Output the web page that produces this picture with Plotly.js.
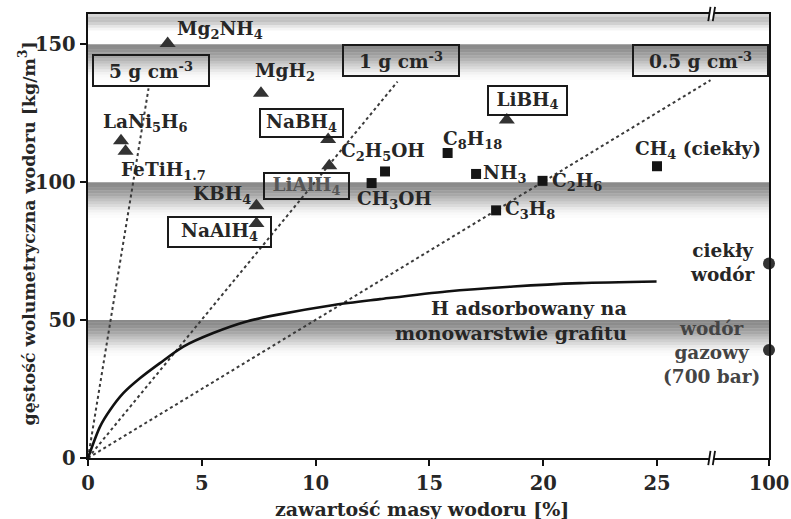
<!DOCTYPE html>
<html>
<head>
<meta charset="utf-8">
<script src="https://cdn.plot.ly/plotly-3.0.1.min.js"></script>
<style>html,body{margin:0;padding:0;background:#fff;}#chart{width:791px;height:519px;}</style>
</head>
<body>
<div id="chart"></div>
<script>
// ---- data ----
const hydrideNames = ['Mg2NH4', 'MgH2', 'LaNi5H6', 'FeTiH1.7', 'NaBH4', 'LiAlH4', 'KBH4', 'NaAlH4', 'LiBH4'];
const hydrideWt    = [3.5, 7.6, 1.45, 1.65, 10.55, 10.6, 7.4, 7.4, 18.4];
const hydrideVol   = [150.3, 132.3, 115.0, 111.2, 115.5, 106.0, 91.5, 85.0, 122.6];

const fuelNames = ['C8H18', 'NH3', 'C2H6', 'C3H8', 'CH4 (ciekły)', 'C2H5OH', 'CH3OH'];
const fuelWt    = [15.8, 17.05, 19.97, 17.93, 25.0, 13.05, 12.46];
const fuelVol   = [110.6, 103.0, 100.5, 89.8, 105.8, 103.9, 99.7];

const hydrogenNames = ['ciekły wodór', 'wodór gazowy (700 bar)'];
const hydrogenWt    = [100, 100];
const hydrogenVol   = [70.5, 39.2];

const grapheneWt  = [0, 0.53, 0.97, 1.55, 2.28, 3.16, 4.19, 5.5, 6.97, 8.29, 10.8, 12.83, 15.76, 18.69, 21.6, 24.98];
const grapheneVol = [0, 11.4, 17.4, 23.5, 28.9, 34.4, 40.4, 45.3, 49.5, 51.9, 55.5, 57.6, 60.4, 62.2, 63.4, 64.0];

const densityLabels = ['5 g cm-3', '1 g cm-3', '0.5 g cm-3'];
const densityLineWt  = [[0, 2.66], [0, 13.6], [0, 27.35]];
const densityLineVol = [[0, 134], [0, 136.5], [0, 137]];

const xTickValues = [0, 5, 10, 15, 20, 25, 100];
const yTickValues = [0, 50, 100, 150];

const xTitle = 'zawartość masy wodoru [%]';
const yTitle = 'gęstość wolumetryczna wodoru [kg/m<sup>3</sup>]';

// ---- axis mapping (broken axis: 100 % sits at the right edge) ----
const X_RIGHT = 29.92;
const xPos = v => (v >= 100 ? X_RIGHT : v);

const FONT = 'DejaVu Serif, Liberation Serif, serif';
const TXT = '#262626';
const LS = 18.5;

const traces = [];
densityLabels.forEach((n, i) => {
  traces.push({x: densityLineWt[i], y: densityLineVol[i], mode: 'lines', name: n,
    line: {color: '#3a3a3a', width: 2, dash: 'dot'}, hoverinfo: 'skip'});
});
traces.push({x: grapheneWt, y: grapheneVol, mode: 'lines', name: 'H adsorbowany',
  line: {color: '#111', width: 2.6, shape: 'spline', smoothing: 0.8}});
traces.push({x: hydrideWt, y: hydrideVol, mode: 'markers', name: 'wodorki', text: hydrideNames,
  marker: {symbol: 'triangle-up', size: 14, color: '#333'}});
traces.push({x: fuelWt, y: fuelVol, mode: 'markers', name: 'paliwa', text: fuelNames,
  marker: {symbol: 'square', size: 10, color: '#151515'}});
traces.push({x: hydrogenWt.map(xPos), y: hydrogenVol, mode: 'markers', name: 'wodór', text: hydrogenNames,
  marker: {symbol: 'circle', size: 12, color: '#333'}, cliponaxis: false});

// ---- gradient bands ----
const shapes = [];
const bandTops = [150, 100, 50];
const bandAlpha = [0.46, 0.45, 0.42, 0.38, 0.34, 0.29, 0.24, 0.19, 0.14, 0.09, 0.05, 0.025, 0.01];
bandTops.forEach(t => {
  bandAlpha.forEach((a, k) => {
    shapes.push({type: 'rect', layer: 'below', xref: 'paper', yref: 'y', x0: 0, x1: 1,
      y0: t - k - 1, y1: t - k, line: {width: 0}, fillcolor: `rgba(0,0,0,${a})`});
  });
});
const topAlpha = [0.16, 0.24, 0.24, 0.18, 0.1, 0.04];
topAlpha.forEach((a, k) => {
  shapes.push({type: 'rect', layer: 'below', xref: 'paper', yref: 'y', x0: 0, x1: 1,
    y0: 161 - k - 1, y1: 161 - k, line: {width: 0}, fillcolor: `rgba(0,0,0,${a})`});
});
// axis break marks
[0, 1].forEach(yc => {
  shapes.push({type: 'rect', layer: 'above', xref: 'x', yref: 'paper', x0: 27.33, x1: 27.5,
    y0: yc - 0.012, y1: yc + 0.012, fillcolor: '#fff', line: {width: 0}});
  [27.3, 27.5].forEach(xx => {
    shapes.push({type: 'line', layer: 'above', xref: 'x', yref: 'paper', x0: xx - 0.05, x1: xx + 0.05,
      y0: yc - 0.016, y1: yc + 0.016, line: {color: '#111', width: 1.8}});
  });
});

// ---- labels ----
function lab(text, x, y, opt = {}) {
  return Object.assign({text, x, y, xref: 'x', yref: 'y', showarrow: false,
    font: {family: FONT, size: LS, color: TXT, weight: 700}}, opt);
}
function boxed(text, x, y, w, h, opt = {}) {
  return lab(text, x, y, Object.assign({width: w, height: h, bordercolor: '#1a1a1a', borderwidth: 2,
    borderpad: 0, bgcolor: 'rgba(0,0,0,0)'}, opt));
}
const annotations = [
  lab('Mg<sub>2</sub>NH<sub>4</sub>', 5.8, 155.3),
  boxed('5 g cm<sup>-3</sup>', 2.77, 140.5, 114, 29),
  lab('MgH<sub>2</sub>', 8.66, 140),
  boxed('1 g cm<sup>-3</sup>', 13.75, 144, 114, 29),
  boxed('0.5 g cm<sup>-3</sup>', 26.9, 144, 133, 29),
  boxed('LiBH<sub>4</sub>', 19.29, 129.6, 77, 27),
  lab('LaNi<sub>5</sub>H<sub>6</sub>', 2.5, 121.6),
  boxed('NaBH<sub>4</sub>', 9.4, 121.6, 81, 26),
  lab('C<sub>2</sub>H<sub>5</sub>OH', 12.96, 111),
  lab('C<sub>8</sub>H<sub>18</sub>', 16.9, 115.4),
  lab('CH<sub>4</sub> (ciekły)', 26.8, 111.8),
  lab('FeTiH<sub>1.7</sub>', 3.3, 104.2),
  lab('NH<sub>3</sub>', 18.3, 103),
  lab('C<sub>2</sub>H<sub>6</sub>', 21.5, 100.2),
  lab('KBH<sub>4</sub>', 5.9, 95.5),
  boxed('LiAlH<sub>4</sub>', 9.58, 98.7, 83, 24, {font: {family: FONT, size: LS, color: '#555', weight: 700}}),
  lab('CH<sub>3</sub>OH', 13.45, 93.6),
  lab('C<sub>3</sub>H<sub>8</sub>', 19.4, 90),
  boxed('NaAlH<sub>4</sub>', 5.76, 82, 101, 28),
  lab('ciekły<br>wodór', 27.86, 71),
  lab('H adsorbowany na<br>monowarstwie grafitu', 18.6, 49.8, {align: 'right', font: {family: FONT, size: 19, color: TXT, weight: 700}}),
  lab('wodór<br>gazowy<br>(700 bar)', 27.4, 38.1, {font: {family: FONT, size: LS, color: '#444', weight: 700}}),
  // axis titles
  {text: xTitle, xref: 'paper', yref: 'paper', x: 0.4905, y: -0.1149, showarrow: false,
    xanchor: 'center', yanchor: 'middle', font: {family: FONT, size: 19, color: TXT, weight: 700}},
  {text: yTitle, xref: 'paper', yref: 'paper', x: -0.0896, y: 0.5056, showarrow: false, textangle: -90,
    xanchor: 'center', yanchor: 'middle', font: {family: FONT, size: 17.4, color: TXT, weight: 700}}
];

const layout = {
  width: 791, height: 519,
  margin: {l: 88, r: 22, t: 14, b: 61},
  paper_bgcolor: '#fff', plot_bgcolor: '#fff',
  showlegend: false,
  font: {family: FONT, color: TXT},
  xaxis: {
    range: [0, X_RIGHT], showgrid: false, zeroline: false,
    showline: true, linecolor: '#111', linewidth: 2.2, mirror: true,
    ticks: 'outside', ticklen: 6, tickwidth: 2, tickcolor: '#111',
    tickvals: xTickValues.map(xPos), ticktext: xTickValues.map(String),
    tickfont: {family: FONT, size: 19.5, color: TXT, weight: 700}
  },
  yaxis: {
    range: [0, 161], showgrid: false, zeroline: false,
    showline: true, linecolor: '#111', linewidth: 2.4, mirror: true,
    ticks: 'outside', ticklen: 6, tickwidth: 2, tickcolor: '#111',
    tickvals: yTickValues, ticktext: yTickValues.map(String),
    tickfont: {family: FONT, size: 19.5, color: TXT, weight: 700}
  },
  shapes, annotations
};

Plotly.newPlot('chart', traces, layout, {displayModeBar: false, staticPlot: true});
</script>
</body>
</html>
